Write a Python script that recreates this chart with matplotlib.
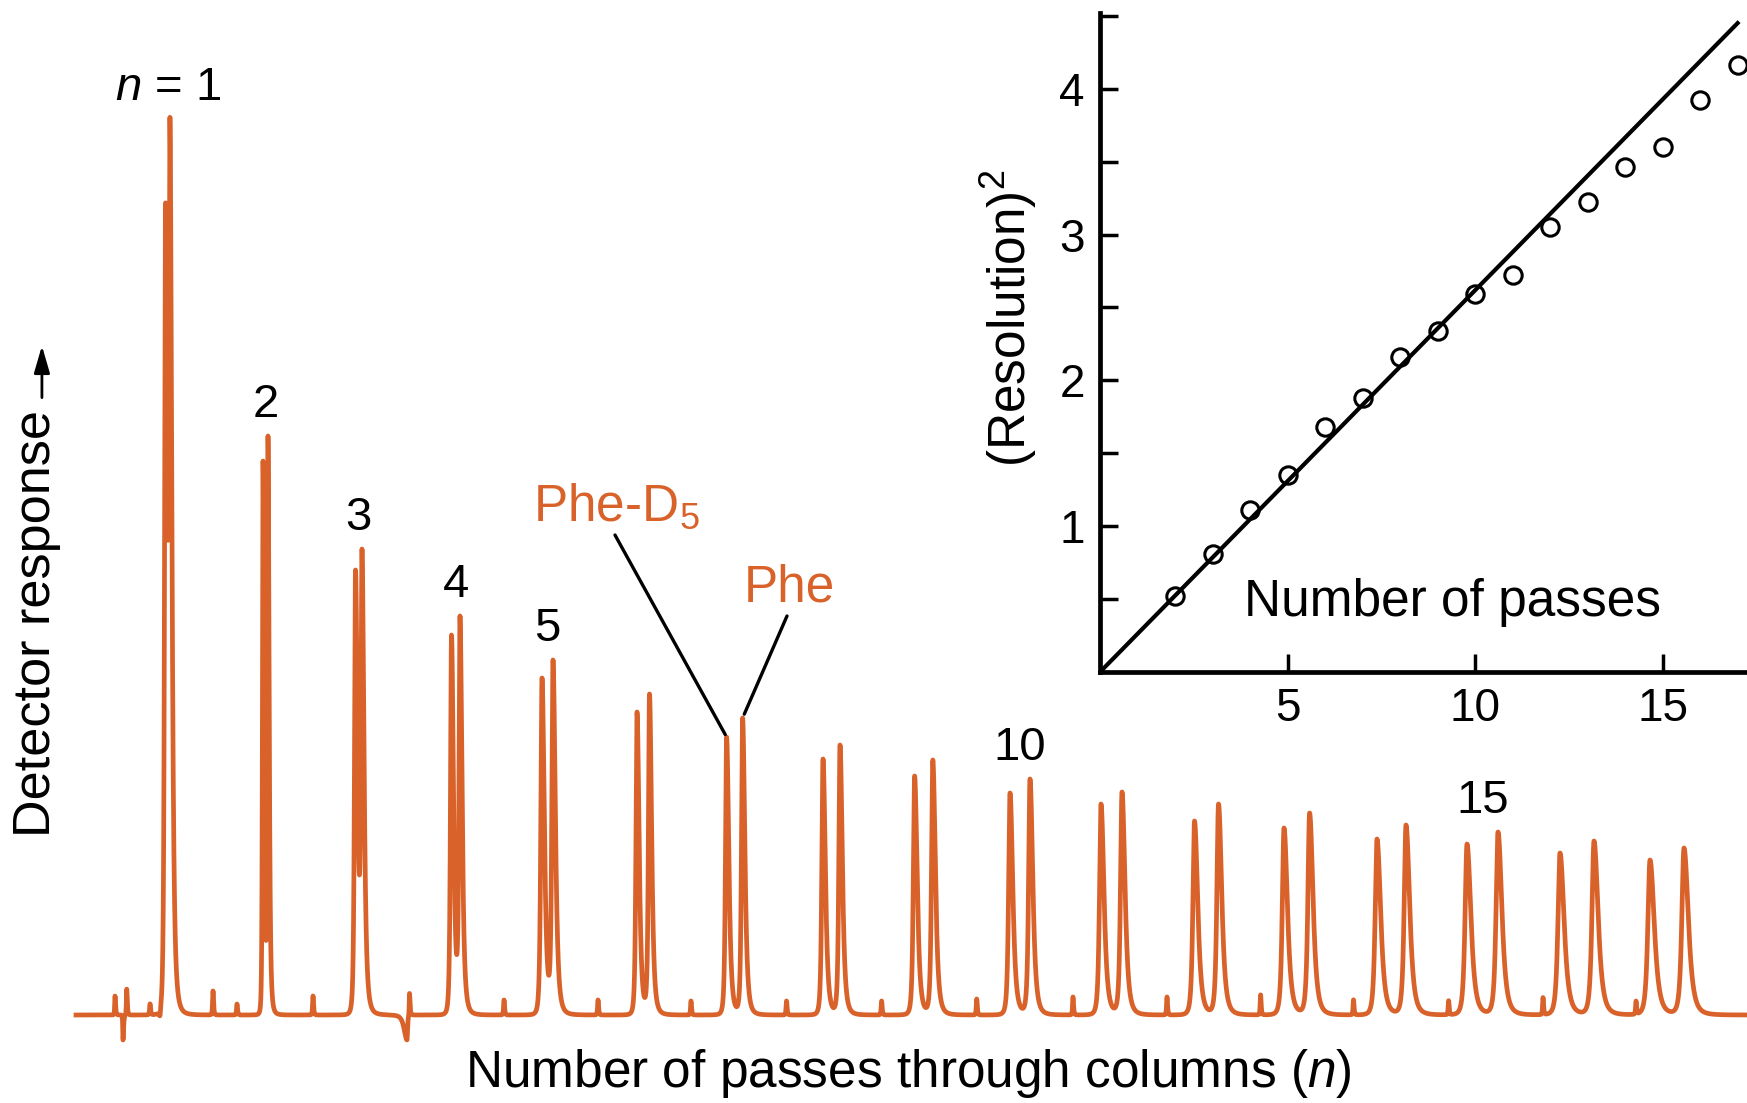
import numpy as np
import matplotlib.pyplot as plt

plt.rcParams['font.family'] = ['Liberation Sans', 'DejaVu Sans']
plt.rcParams['mathtext.fontset'] = 'custom'
plt.rcParams['mathtext.rm'] = 'Liberation Sans'
plt.rcParams['mathtext.it'] = 'Liberation Sans:italic'

ORANGE = '#D9622B'

# --- recycle chromatogram: one pair of peaks (Phe-D5, Phe) per pass ---
passes = np.arange(1, 18)
t_d5 = [16.55, 26.3, 35.55, 45.15, 54.2, 63.7, 72.66, 82.3, 91.46, 101.0,
        110.1, 119.45, 128.4, 137.7, 146.7, 156.0, 165.0]
t_phe = [17.0, 26.8, 36.2, 46.0, 55.3, 64.95, 74.26, 84.0, 93.28, 103.0,
         112.2, 121.85, 130.96, 140.6, 149.8, 159.4, 168.4]
# apex heights
h_d5 = [8.12, 5.54, 4.45, 3.80, 3.37, 3.03, 2.78, 2.56, 2.39, 2.22,
        2.11, 1.94, 1.87, 1.76, 1.71, 1.62, 1.55]
h_phe = [8.96, 5.79, 4.66, 3.99, 3.55, 3.21, 2.97, 2.70, 2.55, 2.36,
         2.23, 2.11, 2.02, 1.90, 1.83, 1.74, 1.67]
w_front = [0.17, 0.10, 0.18, 0.18, 0.21, 0.19, 0.20, 0.21, 0.23, 0.25,
           0.27, 0.29, 0.31, 0.33, 0.35, 0.37, 0.39]
tailing = 2.0

# small system peaks / baseline disturbances
blip_t = [11.5, 12.3, 12.67, 15.0, 16.0, 21.3, 23.7, 31.3, 40.7, 40.95,
          50.4, 59.8, 69.1, 78.65, 88.16, 97.67, 107.3, 116.7, 126.06,
          135.35, 144.86, 154.3, 163.6]
blip_h = [0.19, -0.25, 0.26, 0.11, -0.07, 0.24, 0.11, 0.19, -0.25, 0.22,
          0.15, 0.15, 0.14, 0.14, 0.14, 0.16, 0.18, 0.18, 0.20,
          0.15, 0.14, 0.17, 0.13]
blip_wl = [0.06, 0.05, 0.06, 0.08, 0.15, 0.08, 0.08, 0.08, 0.5, 0.05,
           0.08, 0.08, 0.08, 0.08, 0.08, 0.08, 0.08, 0.08, 0.08,
           0.08, 0.08, 0.08, 0.08]

label_passes = [1, 2, 3, 4, 5, 10, 15]
label_text = ['$n$ = 1', '2', '3', '4', '5', '10', '15']

# --- inset: resolution squared vs number of passes ---
n_pass = np.arange(2, 18)
res2 = [0.52, 0.81, 1.11, 1.35, 1.68, 1.88, 2.16, 2.34, 2.59, 2.72,
        3.05, 3.22, 3.46, 3.60, 3.92, 4.16]
fit_x = [0, 17]
fit_y = [0, 4.45]


def peak(t, t0, h, wl, wr):
    w = np.where(t < t0, wl, wr)
    return h / (1 + ((t - t0) / w) ** 2) ** 2


centers = np.array(t_d5 + t_phe)
apex = np.array(h_d5 + h_phe)
wl = np.array(w_front + w_front)
wr = wl * tailing
# amplitudes so that the summed trace passes through the read apex heights
A = np.array([[peak(c, centers[j], 1.0, wl[j], wr[j]) for j in range(len(centers))]
              for c in centers])
amps = np.linalg.solve(A, apex)

t = np.arange(7.6, 174.8, 0.005)
signal = np.zeros_like(t)
for j in range(len(centers)):
    signal += peak(t, centers[j], amps[j], wl[j], wr[j])
for tb, hb, wb in zip(blip_t, blip_h, blip_wl):
    signal += peak(t, tb, hb, wb, 0.1)

fig = plt.figure(figsize=(17.47, 11.03), dpi=100)
ax = fig.add_axes([0, 0, 1, 1])
ax.plot(t, signal, color=ORANGE, lw=3.4)
ax.set_xlim(0, 174.7)
ax.set_ylim(-0.88, 10.15)
ax.axis('off')

for p, s in zip(label_passes, label_text):
    i = p - 1
    xm = (t_d5[i] + t_phe[i]) / 2
    ym = max(h_d5[i], h_phe[i])
    ax.annotate(s, xy=(xm, ym), xytext=(0, 22.5), textcoords='offset points',
                ha='center', va='center', fontsize=34)

ax.text(53.3, 4.94, 'Phe-D$_5$', color=ORANGE, fontsize=37, ha='left', va='baseline')
ax.text(74.4, 4.13, 'Phe', color=ORANGE, fontsize=37, ha='left', va='baseline')
ax.annotate('', xy=(t_d5[6], h_d5[6]), xytext=(61.5, 4.80),
            arrowprops=dict(arrowstyle='-', color='black', lw=2.4, shrinkA=0, shrinkB=2))
ax.annotate('', xy=(t_phe[6], h_phe[6]), xytext=(78.7, 3.99),
            arrowprops=dict(arrowstyle='-', color='black', lw=2.4, shrinkA=0, shrinkB=3))

fig.text(0.52, 0.027, 'Number of passes through columns ($n$)',
         ha='center', va='center', fontsize=37)
fig.text(0.021, 0.2412, 'Detector response', rotation=90,
         ha='center', va='bottom', fontsize=37.6)
# the upward arrow that ends the axis title
ax.annotate('', xy=(0.024, 0.6865), xytext=(0.024, 0.6395),
            xycoords='figure fraction', textcoords='figure fraction',
            arrowprops=dict(arrowstyle='-|>,head_length=0.55,head_width=0.16',
                            mutation_scale=30, color='black', lw=2.0,
                            shrinkA=0, shrinkB=0))

# inset
axin = fig.add_axes([0.6297, 0.3908, 0.3703, 0.5975])
axin.patch.set_alpha(0)
axin.plot(fit_x, fit_y, color='black', lw=3.0)
axin.plot(n_pass, res2, 'o', mfc='none', mec='black', ms=12.5, mew=2.2, clip_on=False)
axin.set_xlim(0, 17.25)
axin.set_ylim(0, 4.52)
for side in ['top', 'right']:
    axin.spines[side].set_visible(False)
for side in ['left', 'bottom']:
    axin.spines[side].set_linewidth(3.4)
axin.set_xticks([5, 10, 15])
axin.set_yticks([1, 2, 3, 4])
axin.set_yticks([0.5, 1.5, 2.5, 3.5, 4.5], minor=True)
axin.tick_params(axis='both', which='both', direction='in', length=13, width=2.5,
                 labelsize=33, pad=11)
axin.text(-0.142, 0.537, '(Resolution)$^2$', rotation=90, ha='center', va='center',
          transform=axin.transAxes, fontsize=37)
axin.text(0.544, 0.105, 'Number of passes', ha='center', va='center',
          transform=axin.transAxes, fontsize=37)

fig.savefig('out.png', dpi=100)
